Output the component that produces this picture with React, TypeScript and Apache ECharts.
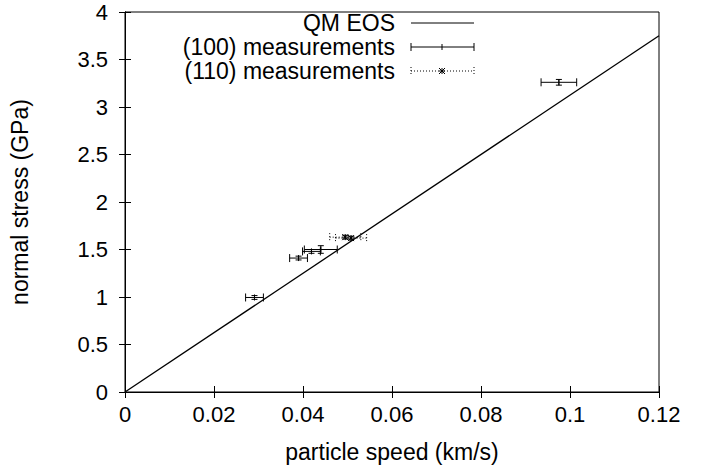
import React, { useEffect, useRef } from "react";
import * as echarts from "echarts";

const xTicks = [0, 0.02, 0.04, 0.06, 0.08, 0.1, 0.12];
const yTicks = [0, 0.5, 1, 1.5, 2, 2.5, 3, 3.5, 4];

const eosX = [0, 0.12];
const eosY = [0, 3.75];

const x100 = [0.0291, 0.039, 0.0419, 0.044, 0.0975];
const y100 = [0.995, 1.41, 1.48, 1.5, 3.26];
const xErr100 = [0.002, 0.002, 0.002, 0.0037, 0.004];
const yErr100 = [0.02, 0.02, 0.02, 0.04, 0.03];

const x110 = [0.0495, 0.0508];
const y110 = [1.63, 1.62];
const xErr110 = [0.0035, 0.0035];
const yErr110 = [0.02, 0.02];

const legendNames = ["QM EOS", "(100) measurements", "(110) measurements"];

const FONT = "'Liberation Sans', Arial, sans-serif";
const FS = 22;
const FS2 = 23;

function makeRender(dotted: boolean) {
  return (params: any, api: any) => {
    const x = api.value(0), y = api.value(1), xe = api.value(2), ye = api.value(3);
    const c = api.coord([x, y]);
    const l = api.coord([x - xe, y]);
    const r = api.coord([x + xe, y]);
    const t = api.coord([x, y + ye]);
    const b = api.coord([x, y - ye]);
    const cap = 4;
    const st: any = { stroke: "#000", lineWidth: 1 };
    if (dotted) st.lineDash = [1, 2];
    const cs = { stroke: "#000", lineWidth: 1 };
    const ch: any[] = [
      { type: "line", shape: { x1: l[0], y1: c[1], x2: r[0], y2: c[1] }, style: st },
      { type: "line", shape: { x1: l[0], y1: c[1] - cap, x2: l[0], y2: c[1] + cap }, style: st },
      { type: "line", shape: { x1: r[0], y1: c[1] - cap, x2: r[0], y2: c[1] + cap }, style: st },
      { type: "line", shape: { x1: c[0], y1: t[1], x2: c[0], y2: b[1] }, style: cs },
      { type: "line", shape: { x1: c[0] - 3, y1: t[1], x2: c[0] + 3, y2: t[1] }, style: cs },
      { type: "line", shape: { x1: c[0] - 3, y1: b[1], x2: c[0] + 3, y2: b[1] }, style: cs },
    ];
    if (dotted) {
      const s = 3;
      ch.push(
        { type: "line", shape: { x1: c[0] - s, y1: c[1] - s, x2: c[0] + s, y2: c[1] + s }, style: cs },
        { type: "line", shape: { x1: c[0] - s, y1: c[1] + s, x2: c[0] + s, y2: c[1] - s }, style: cs },
        { type: "line", shape: { x1: c[0] - s, y1: c[1], x2: c[0] + s, y2: c[1] }, style: cs },
        { type: "line", shape: { x1: c[0], y1: c[1] - s, x2: c[0], y2: c[1] + s }, style: cs }
      );
    } else {
      ch.push({ type: "line", shape: { x1: c[0], y1: c[1] - 3, x2: c[0], y2: c[1] + 3 }, style: cs });
    }
    return { type: "group", children: ch };
  };
}

export default function App() {
  const ref = useRef<HTMLDivElement>(null);
  useEffect(() => {
    const chart = echarts.init(ref.current!, undefined, { renderer: "svg" });
    const fmt = (v: number) => String(Math.round(v * 1000) / 1000);
    const axisCommon = {
      axisLine: { show: true, lineStyle: { color: "#000", width: 1 } },
      axisTick: { show: true, inside: true, length: 6, lineStyle: { color: "#000" } },
      splitLine: { show: false },
    };
    const legendY = [23, 47, 71];
    const graphics: any[] = [];
    legendNames.forEach((n, i) => {
      graphics.push({
        type: "text",
        x: 395,
        y: legendY[i],
        style: { text: n, font: `${FS2}px ${FONT}`, fill: "#000", align: "right", verticalAlign: "middle" },
      });
      const st: any = { stroke: "#000", lineWidth: 1 };
      if (i === 2) st.lineDash = [1, 2];
      graphics.push({ type: "line", shape: { x1: 411, y1: legendY[i], x2: 474, y2: legendY[i] }, style: st });
      if (i > 0) {
        graphics.push({ type: "line", shape: { x1: 411, y1: legendY[i] - 4, x2: 411, y2: legendY[i] + 4 }, style: st });
        graphics.push({ type: "line", shape: { x1: 474, y1: legendY[i] - 4, x2: 474, y2: legendY[i] + 4 }, style: st });
      }
      if (i === 1) {
        graphics.push({ type: "line", shape: { x1: 442, y1: legendY[i] - 3, x2: 442, y2: legendY[i] + 3 }, style: { stroke: "#000" } });
      }
      if (i === 2) {
        const cx = 442, cy = legendY[i], s = 3;
        [[-s, -s, s, s], [-s, s, s, -s], [-s, 0, s, 0], [0, -s, 0, s]].forEach((d) =>
          graphics.push({ type: "line", shape: { x1: cx + d[0], y1: cy + d[1], x2: cx + d[2], y2: cy + d[3] }, style: { stroke: "#000" } })
        );
      }
    });
    chart.setOption({
      animation: false,
      textStyle: { fontFamily: FONT },
      grid: { left: 125, right: 50, top: 12, bottom: 80, show: true, borderColor: "#000", borderWidth: 1 },
      xAxis: [
        {
          type: "value",
          min: xTicks[0],
          max: xTicks[xTicks.length - 1],
          interval: 0.02,
          ...axisCommon,
          axisLabel: { color: "#000", fontSize: FS, margin: 11, formatter: fmt },
          name: "particle speed (km/s)",
          nameLocation: "middle",
          nameGap: 48,
          nameTextStyle: { color: "#000", fontSize: FS2 },
        },
        {
          type: "value",
          position: "top",
          min: xTicks[0],
          max: xTicks[xTicks.length - 1],
          interval: 0.02,
          ...axisCommon,
          axisLabel: { show: false },
        },
      ],
      yAxis: [
        {
          type: "value",
          min: yTicks[0],
          max: yTicks[yTicks.length - 1],
          interval: 0.5,
          ...axisCommon,
          axisLabel: { color: "#000", fontSize: FS, margin: 17, formatter: fmt },
          name: "normal stress (GPa)",
          nameLocation: "middle",
          nameGap: 94,
          nameTextStyle: { color: "#000", fontSize: FS2 },
        },
        {
          type: "value",
          position: "right",
          min: yTicks[0],
          max: yTicks[yTicks.length - 1],
          interval: 0.5,
          ...axisCommon,
          axisLabel: { show: false },
        },
      ],
      series: [
        {
          name: legendNames[0],
          type: "line",
          data: eosX.map((x, i) => [x, eosY[i]]),
          showSymbol: false,
          lineStyle: { color: "#000", width: 1.3 },
        },
        {
          name: legendNames[1],
          type: "custom",
          renderItem: makeRender(false),
          data: x100.map((x, i) => [x, y100[i], xErr100[i], yErr100[i]]),
          encode: { x: 0, y: 1 },
          z: 3,
        },
        {
          name: legendNames[2],
          type: "custom",
          renderItem: makeRender(true),
          data: x110.map((x, i) => [x, y110[i], xErr110[i], yErr110[i]]),
          encode: { x: 0, y: 1 },
          z: 3,
        },
      ],
      graphic: graphics,
    });
    return () => chart.dispose();
  }, []);
  return <div ref={ref} style={{ width: 709, height: 472, position: "absolute", left: 0, top: 0 }} />;
}
